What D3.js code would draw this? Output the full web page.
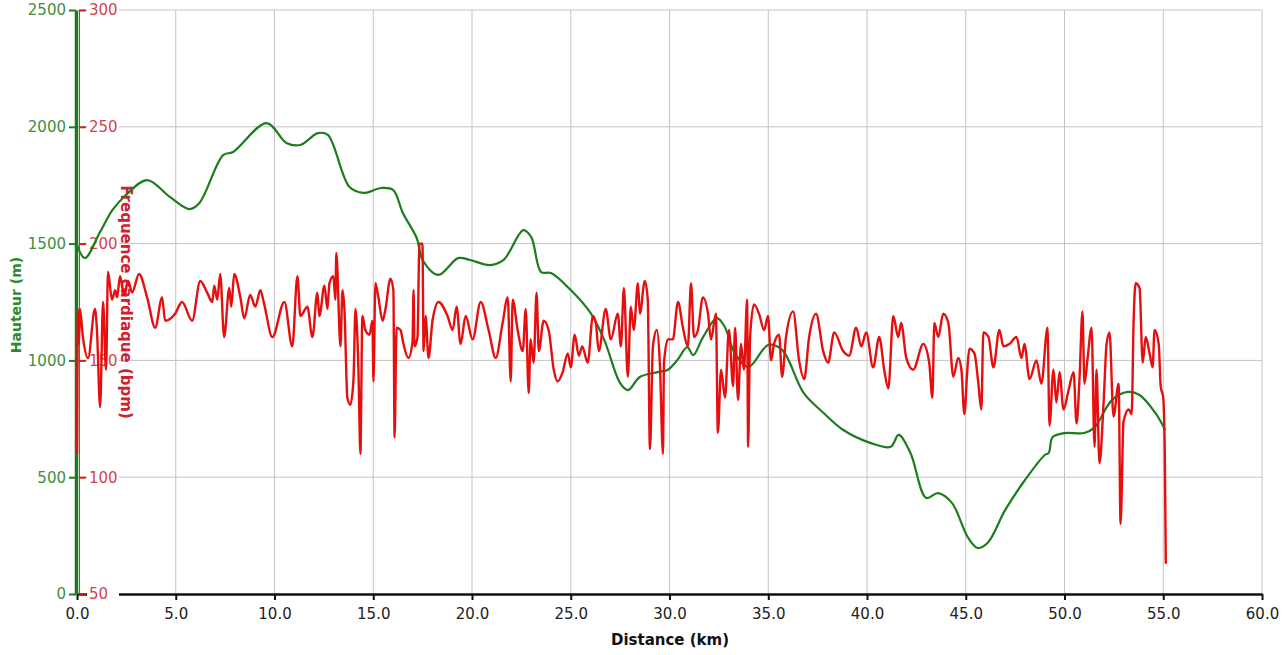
<!DOCTYPE html>
<html>
<head>
<meta charset="utf-8">
<script src="https://cdn.jsdelivr.net/npm/d3@7"></script>
<style>
  body { margin: 0; background: #fff; }
  svg { display: block; font-family: "DejaVu Sans", sans-serif; }
</style>
</head>
<body>
<div id="chart"></div>
<script>
// distance ticks (km)
var distTicks = [0, 5, 10, 15, 20, 25, 30, 35, 40, 45, 50, 55, 60];
var altTicks  = [0, 500, 1000, 1500, 2000, 2500];
var hrTicks   = [50, 100, 150, 200, 250, 300];

// elevation profile (green)
var altKm = [0, 0.4, 1.17, 1.8, 2.48, 3.55, 4.7, 5.7, 6.2, 7.4, 7.9, 9.6, 10.6, 11.3, 12.2, 12.7,
  13.8, 14.5, 15.4, 16.0, 16.5, 17.2, 17.5, 18.3, 19.3, 19.9, 20.9, 21.6, 22.6, 23.0, 23.5, 24.0,
  25.0, 26.0, 26.7, 27.5, 27.9, 28.5, 29.4, 29.9, 30.4, 30.9, 31.2, 31.7, 32.4, 32.8, 33.3, 34.0,
  35.0, 35.7, 36.8, 37.8, 38.8, 40.2, 41.2, 41.6, 42.2, 43.0, 43.6, 44.3, 45.1, 45.6, 46.1, 47.0,
  48.0, 49.0, 49.2, 49.4, 50.0, 51.0, 51.5, 52.4, 53.2, 53.8, 54.6, 55.1];
var altM = [1495, 1438, 1550, 1644, 1708, 1772, 1700, 1648, 1674, 1879, 1892, 2016, 1931, 1922, 1973, 1965,
  1742, 1717, 1738, 1730, 1631, 1524, 1430, 1366, 1438, 1430, 1408, 1430, 1558, 1528, 1378, 1374,
  1301, 1203, 1087, 903, 873, 929, 950, 959, 1002, 1057, 1023, 1100, 1181, 1143, 1032, 972,
  1066, 1045, 860, 775, 702, 646, 630, 681, 604, 411, 432, 390, 244, 197, 218, 360,
  488, 595, 604, 672, 689, 689, 711, 830, 865, 852, 775, 702];

// heart rate (red)
var hrKm = [0.00, 0.05, 0.10, 0.15, 0.30, 0.56, 0.91, 1.01, 1.17, 1.32, 1.47, 1.57, 1.77, 1.93, 2.03, 2.18,
  2.38, 2.59, 2.79, 3.14, 3.55, 3.96, 4.31, 4.46, 4.97, 5.32, 5.83, 6.24, 6.59, 6.85, 6.95, 7.10,
  7.25, 7.45, 7.71, 7.81, 7.96, 8.27, 8.47, 8.77, 9.03, 9.28, 9.48, 9.89, 10.50, 10.90, 11.16, 11.31,
  11.56, 11.66, 11.92, 12.17, 12.27, 12.53, 12.68, 12.78, 12.98, 13.08, 13.13, 13.34, 13.44, 13.54, 13.69, 13.84,
  14.00, 14.10, 14.25, 14.35, 14.45, 14.60, 14.81, 14.96, 15.01, 15.11, 15.26, 15.47, 15.62, 15.87, 16.02, 16.08,
  16.18, 16.38, 16.53, 16.78, 16.99, 17.04, 17.09, 17.24, 17.34, 17.49, 17.55, 17.65, 17.80, 18.00, 18.31, 18.76,
  19.02, 19.22, 19.42, 19.68, 20.03, 20.44, 20.84, 21.20, 21.55, 21.81, 21.96, 22.06, 22.31, 22.57, 22.72, 22.87,
  22.97, 23.12, 23.27, 23.38, 23.63, 23.88, 24.14, 24.34, 24.59, 24.85, 25.00, 25.20, 25.41, 25.58, 25.86, 26.12,
  26.27, 26.42, 26.77, 27.03, 27.38, 27.54, 27.69, 27.89, 28.04, 28.19, 28.40, 28.50, 28.75, 28.90, 29.01, 29.16,
  29.36, 29.51, 29.67, 29.72, 29.92, 30.17, 30.43, 30.68, 30.93, 31.09, 31.24, 31.44, 31.69, 31.95, 32.10, 32.35,
  32.45, 32.61, 32.81, 33.01, 33.22, 33.32, 33.47, 33.62, 33.77, 33.93, 33.98, 34.08, 34.28, 34.53, 34.79, 34.99,
  35.14, 35.29, 35.55, 35.70, 35.90, 36.26, 36.56, 36.82, 37.07, 37.42, 37.78, 38.03, 38.34, 38.79, 39.10, 39.45,
  39.71, 39.96, 40.31, 40.62, 40.87, 41.08, 41.33, 41.58, 41.73, 41.99, 42.34, 42.85, 43.15, 43.31, 43.41, 43.61,
  43.86, 44.12, 44.37, 44.62, 44.78, 44.93, 45.08, 45.18, 45.44, 45.64, 45.79, 45.89, 46.15, 46.40, 46.70, 46.91,
  47.21, 47.57, 47.82, 47.97, 48.23, 48.58, 48.83, 49.14, 49.24, 49.44, 49.59, 49.75, 49.95, 50.20, 50.46, 50.61,
  50.76, 50.91, 51.01, 51.17, 51.37, 51.52, 51.62, 51.77, 51.98, 52.13, 52.28, 52.48, 52.74, 52.84, 52.99, 53.25,
  53.40, 53.50, 53.60, 53.80, 53.96, 54.11, 54.31, 54.46, 54.56, 54.77, 54.87, 55.00, 55.08, 55.13];
var hrBpm = [110, 172, 157, 172, 160, 151, 172, 163, 130, 175, 146, 188, 176, 180, 177, 186,
  178, 184, 179, 187, 177, 164, 177, 167, 170, 175, 167, 184, 179, 175, 182, 176,
  187, 160, 181, 173, 187, 177, 168, 178, 173, 180, 174, 160, 175, 156, 186, 169,
  172, 173, 160, 179, 169, 182, 172, 183, 186, 176, 196, 156, 180, 172, 134, 131,
  142, 172, 146, 110, 169, 163, 161, 167, 141, 183, 177, 167, 172, 185, 180, 117,
  164, 163, 157, 151, 158, 180, 156, 160, 200, 200, 154, 169, 151, 167, 175, 169,
  163, 173, 157, 169, 159, 175, 163, 151, 166, 177, 141, 176, 163, 154, 172, 136,
  159, 149, 179, 154, 167, 163, 146, 141, 145, 153, 147, 161, 152, 156, 149, 169,
  166, 154, 172, 159, 170, 156, 181, 143, 173, 163, 183, 170, 184, 176, 112, 156,
  163, 149, 110, 149, 159, 159, 175, 164, 156, 183, 160, 163, 177, 170, 159, 170,
  119, 146, 134, 163, 139, 164, 133, 157, 146, 176, 113, 160, 174, 170, 163, 169,
  150, 157, 161, 143, 160, 171, 150, 142, 160, 170, 154, 149, 162, 154, 152, 164,
  156, 162, 147, 160, 146, 138, 169, 160, 166, 151, 146, 157, 149, 134, 166, 160,
  170, 166, 143, 151, 146, 127, 146, 155, 153, 140, 129, 162, 160, 147, 163, 156,
  157, 160, 151, 157, 142, 150, 140, 164, 122, 146, 132, 145, 129, 137, 145, 123,
  142, 171, 140, 151, 164, 113, 146, 106, 132, 157, 162, 126, 140, 80, 124, 129,
  127, 167, 183, 181, 149, 160, 153, 147, 163, 157, 139, 134, 109, 63];

var altData = altKm.map(function (k, i) { return {km: k, v: altM[i]}; });
var hrData  = hrKm.map(function (k, i) { return {km: k, v: hrBpm[i]}; });

// canvas
var width = 1286, height = 655;
var plot = {left: 77, right: 1262, top: 10, bottom: 594};

var svg = d3.select("#chart").append("svg")
    .attr("width", width)
    .attr("height", height);

// scales
var xScale   = d3.scaleLinear().domain([0, 60]).range([plot.left, plot.right]),
    altScale = d3.scaleLinear().domain([0, 2500]).range([plot.bottom, plot.top]),
    hrScale  = d3.scaleLinear().domain([50, 300]).range([plot.bottom, plot.top]);

// grid
var grid = svg.append("g").attr("class", "grid");
grid.selectAll("line.v")
  .data(distTicks.slice(1))
  .enter().append("line")
    .attr("x1", function (d) { return xScale(d); })
    .attr("x2", function (d) { return xScale(d); })
    .attr("y1", plot.top)
    .attr("y2", plot.bottom)
    .attr("stroke", "#c4c4c4")
    .attr("stroke-width", 1);
grid.selectAll("line.h")
  .data(altTicks.slice(1))
  .enter().append("line")
    .attr("x1", plot.left)
    .attr("x2", plot.right)
    .attr("y1", function (d) { return altScale(d); })
    .attr("y2", function (d) { return altScale(d); })
    .attr("stroke", "#c4c4c4")
    .attr("stroke-width", 1);

// x axis
var xAxis = d3.axisBottom(xScale)
    .tickValues(distTicks)
    .tickFormat(d3.format(".1f"))
    .tickSize(6)
    .tickSizeOuter(0);
var xAxisEl = svg.append("g")
    .attr("transform", "translate(0," + plot.bottom + ")")
    .call(xAxis);
xAxisEl.select(".domain").attr("stroke", "#111").attr("stroke-width", 2.5);
xAxisEl.selectAll(".tick line").attr("stroke", "#111").attr("stroke-width", 2);
xAxisEl.selectAll(".tick text")
    .attr("dy", "1.05em")
    .attr("fill", "#222")
    .style("font-size", "15px")
    .style("font-family", "DejaVu Sans, sans-serif");

// elevation axis (left, green)
var altAxis = d3.axisLeft(altScale)
    .tickValues(altTicks)
    .tickFormat(d3.format("d"))
    .tickSize(7)
    .tickPadding(3)
    .tickSizeOuter(0);
var altAxisEl = svg.append("g")
    .attr("transform", "translate(" + (plot.left - 1) + ",0)")
    .call(altAxis);
altAxisEl.select(".domain").attr("stroke", "#1f7a1f").attr("stroke-width", 3.5);
altAxisEl.selectAll(".tick line").attr("stroke", "#1f7a1f").attr("stroke-width", 2);
altAxisEl.selectAll(".tick text")
    .attr("fill", "#3d8f3d")
    .style("font-size", "15px")
    .style("font-family", "DejaVu Sans, sans-serif");

// heart rate axis (red), labels get a white box so grid stops behind them
var hrAxis = d3.axisRight(hrScale)
    .tickValues(hrTicks)
    .tickSize(7)
    .tickPadding(3)
    .tickSizeOuter(0);
var hrAxisEl = svg.append("g")
    .attr("transform", "translate(" + (plot.left + 2) + ",0)")
    .call(hrAxis);
hrAxisEl.select(".domain").attr("stroke", "#e03020").attr("stroke-width", 1);
hrAxisEl.selectAll(".tick line").attr("stroke", "#cc2020").attr("stroke-width", 2);
hrAxisEl.selectAll(".tick").insert("rect", "text")
    .attr("x", 8).attr("y", -8)
    .attr("width", 32).attr("height", 16)
    .attr("fill", "#fff");
hrAxisEl.selectAll(".tick text")
    .attr("fill", "#d2444c")
    .style("font-size", "15px")
    .style("font-family", "DejaVu Sans, sans-serif");

// axis titles
svg.append("text")
    .attr("transform", "translate(" + 21 + "," + 305 + ") rotate(-90)")
    .attr("text-anchor", "middle")
    .attr("fill", "#2c8a2c")
    .style("font-weight", "bold")
    .style("font-size", "14px")
    .text("Hauteur (m)");

svg.append("text")
    .attr("transform", "translate(" + 121 + "," + 302 + ") rotate(90)")
    .attr("text-anchor", "middle")
    .attr("fill", "#d0202c")
    .style("font-weight", "bold")
    .style("font-size", "15px")
    .text("Frequence cardiaque (bpm)");

svg.append("text")
    .attr("x", 670)
    .attr("y", 645)
    .attr("text-anchor", "middle")
    .attr("fill", "#111")
    .style("font-weight", "bold")
    .style("font-size", "15px")
    .text("Distance (km)");

// lines
var altLine = d3.line()
    .x(function (d) { return xScale(d.km); })
    .y(function (d) { return altScale(d.v); })
    .curve(d3.curveCatmullRom);

var hrLine = d3.line()
    .x(function (d) { return xScale(d.km); })
    .y(function (d) { return hrScale(d.v); })
    .curve(d3.curveMonotoneX);

svg.append("path")
    .datum(altData)
    .attr("d", altLine)
    .attr("fill", "none")
    .attr("stroke", "#1d7d1d")
    .attr("stroke-width", 2.2);

svg.append("path")
    .datum(hrData)
    .attr("d", hrLine)
    .attr("fill", "none")
    .attr("stroke", "#e60f0f")
    .attr("stroke-width", 2.4)
    .attr("stroke-linejoin", "round");
</script>
</body>
</html>
